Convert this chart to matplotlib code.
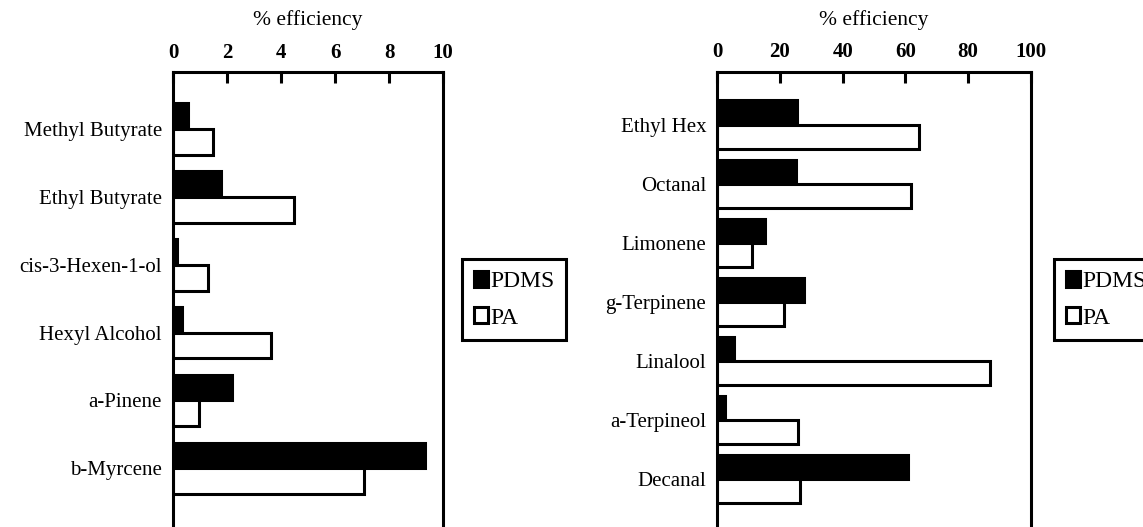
import matplotlib
matplotlib.use('Agg')
import matplotlib.pyplot as plt
import numpy as np

# ---- data ----
left_categories = ['Methyl Butyrate', 'Ethyl Butyrate', 'cis-3-Hexen-1-ol',
                   'Hexyl Alcohol', 'a-Pinene', 'b-Myrcene']
left_pdms = [0.57, 1.77, 0.13, 0.32, 2.17, 9.33]
left_pa = [1.47, 4.49, 1.31, 3.62, 0.97, 7.09]
left_ticks = [0, 2, 4, 6, 8, 10]

right_categories = ['Ethyl Hex', 'Octanal', 'Limonene', 'g-Terpinene',
                    'Linalool', 'a-Terpineol', 'Decanal']
right_pdms = [25.5, 25.0, 15.2, 27.7, 5.4, 2.6, 61.0]
right_pa = [64.2, 61.8, 11.2, 21.4, 87.0, 25.7, 26.3]
right_ticks = [0, 20, 40, 60, 80, 100]

series_names = ['PDMS', 'PA']
xlabel_text = '% efficiency'

plt.rcParams['font.family'] = ['Liberation Serif', 'DejaVu Serif']

W, H = 1143, 527
fig = plt.figure(figsize=(W / 100, H / 100), dpi=100)

LW = 2.2


def px_x(x):
    return x / W


def px_y(y):
    return 1 - y / H


def make_panel(rect, cats, pdms, pa, ticks, ylim, bar_h, title_x, legend_x):
    ax = fig.add_axes(rect)
    y = np.arange(len(cats))
    ax.barh(y - bar_h / 2, pdms, height=bar_h, color='black', edgecolor='black',
            linewidth=LW, label=series_names[0])
    ax.barh(y + bar_h / 2, pa, height=bar_h, color='white', edgecolor='black',
            linewidth=LW, label=series_names[1])
    ax.set_xlim(ticks[0], ticks[-1])
    ax.set_ylim(*ylim)
    ax.set_yticks(y)
    ax.set_yticklabels(cats, fontsize=15)
    ax.set_xticks(ticks)
    ax.set_xticklabels([str(t) for t in ticks], fontsize=15, fontweight='bold')
    ax.xaxis.tick_top()
    ax.tick_params(axis='x', direction='in', length=8, width=LW, pad=7,
                   top=True, bottom=False)
    ax.tick_params(axis='y', length=0, pad=8)
    for s in ax.spines.values():
        s.set_linewidth(LW)
    fig.text(title_x, px_y(20.5), xlabel_text, fontsize=15.5, ha='center', va='center')
    leg = ax.legend(loc='upper left', bbox_to_anchor=(legend_x, px_y(259)),
                    bbox_transform=fig.transFigure, borderaxespad=0,
                    fontsize=17, handlelength=0.6, handleheight=0.65,
                    handletextpad=0.1, labelspacing=0.65, borderpad=0.5,
                    fancybox=False, frameon=True, framealpha=1)
    leg.get_frame().set_edgecolor('black')
    leg.get_frame().set_linewidth(LW)
    return ax


# left panel: axes from x=173..443 px, top at 72 px, bottom just below image
make_panel([px_x(173), px_y(530), px_x(443 - 173), (530 - 72.3) / H],
           left_categories, left_pdms, left_pa, left_ticks,
           (5.91, -0.839), 0.38, px_x(308), px_x(462))

make_panel([px_x(717.3), px_y(531), px_x(1030.7 - 717.3), (531 - 72) / H],
           right_categories, right_pdms, right_pa, right_ticks,
           (6.886, -0.893), 0.41, px_x(874), px_x(1054))

fig.savefig('out.png', dpi=100)
